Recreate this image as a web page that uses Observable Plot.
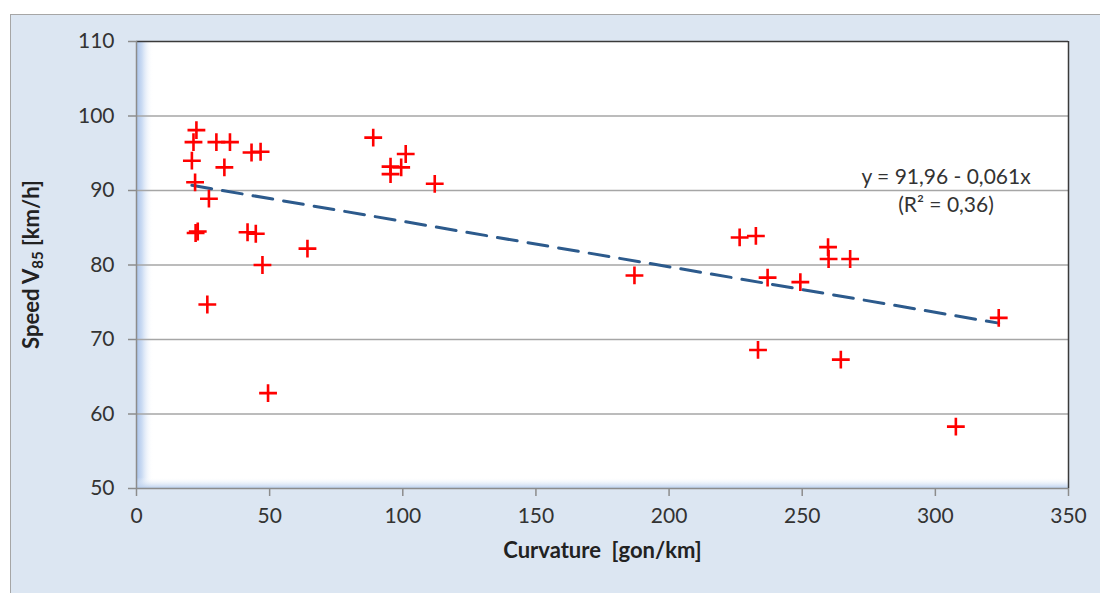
<!DOCTYPE html>
<html>
<head>
<meta charset="utf-8">
<script src="https://cdn.jsdelivr.net/npm/d3@7"></script>
<script src="https://cdn.jsdelivr.net/npm/@observablehq/plot@0.6"></script>
<style>
  html, body { margin: 0; padding: 0; background: #ffffff; }
  #wrap { position: relative; width: 1100px; height: 593px; overflow: hidden; }
  #box { position: absolute; left: 10px; top: 14px; width: 1110px; height: 600px;
         background: #dce6f2; border: 1.5px solid #a6a6a6; box-sizing: border-box; }
  #chart { position: absolute; left: 0; top: 0; }
  svg { font-family: Lato, "Open Sans", sans-serif; }
</style>
</head>
<body>
<div id="wrap"><div id="box"></div><div id="chart"></div></div>
<script>
// Curvature [gon/km]
const curvature = [22.5, 21.4, 30.0, 35.1, 43.2, 46.6, 20.8, 33.0, 22.0, 27.2,
  22.2, 23.0, 41.7, 44.8, 64.2, 47.3, 26.6, 49.4,
  88.9, 101.1, 95.4, 95.4, 99.4, 112.0,
  187.0, 226.5, 232.6, 237.0, 249.3, 259.7, 259.9, 268.0, 233.4, 264.5, 323.8, 307.7];
// Speed V85 [km/h]
const speed = [98.1, 96.5, 96.5, 96.5, 95.1, 95.2, 94.0, 93.1, 91.1, 88.9,
  84.3, 84.5, 84.4, 84.2, 82.2, 80.0, 74.7, 62.8,
  97.1, 94.9, 93.2, 92.2, 93.1, 90.9,
  78.6, 83.7, 83.9, 78.3, 77.7, 82.4, 80.8, 80.8, 68.6, 67.3, 72.9, 58.3];
// trend line end points: y = 91,96 - 0,061x
const trendX = [20.8, 323.8];
const trendY = [90.7, 72.2];
const xTicks = [0, 50, 100, 150, 200, 250, 300, 350];
const yTicks = [50, 60, 70, 80, 90, 100, 110];
const gridTicks = [60, 70, 80, 90, 100];
const equationText = "y = 91,96 - 0,061x";
const r2Text = "(R² = 0,36)";

const points = curvature.map((c, i) => ({c, s: speed[i]}));
const trend = trendX.map((c, i) => ({c, s: trendY[i]}));

const svg = Plot.plot({
  width: 1100,
  height: 593,
  marginLeft: 136,
  marginRight: 32,
  marginTop: 41,
  marginBottom: 105,
  style: {background: "transparent", fontFamily: "Lato, 'Open Sans', sans-serif", color: "#333"},
  x: {domain: [0, 350], ticks: xTicks, label: null},
  y: {domain: [50, 110], ticks: yTicks, label: null},
  marks: [
    Plot.frame({fill: "white", stroke: "none"}),
    Plot.frame({fill: "url(#gradLeft)", stroke: "none"}),
    Plot.frame({fill: "url(#gradBottom)", stroke: "none"}),
    Plot.gridY(gridTicks, {stroke: "#a6a6a6", strokeOpacity: 1, strokeWidth: 1.5}),
    Plot.ruleY([110], {stroke: "#3a3a3a", strokeWidth: 1.5}),
    Plot.ruleX([350], {stroke: "#3a3a3a", strokeWidth: 1.5}),
    Plot.ruleX([0], {stroke: "#8c8c8c", strokeWidth: 1.5}),
    Plot.ruleY([50], {stroke: "#8c8c8c", strokeWidth: 1.5}),
    Plot.axisY({ticks: yTicks, tickSize: 8, tickPadding: 14, fontSize: 21, stroke: "#8c8c8c", strokeWidth: 1.5, fill: "#333", label: null}),
    Plot.axisX({ticks: xTicks, tickSize: 8, tickPadding: 12, fontSize: 21, stroke: "#8c8c8c", strokeWidth: 1.5, fill: "#333", label: null}),
    Plot.line(trend, {x: "c", y: "s", stroke: "#2c5a8c", strokeWidth: 3, strokeDasharray: "20,11"}),
    Plot.dot(points, {x: "c", y: "s", symbol: "plus", r: 5.8, stroke: "#ff0000", strokeWidth: 2.6}),
    Plot.text([equationText], {x: 304, y: 91.8, fontSize: 21, fill: "#333"}),
    Plot.text([r2Text], {x: 304, y: 88.05, fontSize: 21, fill: "#333"}),
    Plot.text(["Curvature  [gon/km]"], {frameAnchor: "bottom", dy: 69, fontSize: 22, fontWeight: "bold", fill: "#222"})
  ]
});

svg.insertAdjacentHTML("afterbegin", `
<defs>
  <linearGradient id="gradLeft" x1="0" y1="0" x2="1" y2="0">
    <stop offset="0" stop-color="#a9c3ea" stop-opacity="1"/>
    <stop offset="0.006" stop-color="#c6d8f2" stop-opacity="0.9"/>
    <stop offset="0.018" stop-color="#ffffff" stop-opacity="0"/>
  </linearGradient>
  <linearGradient id="gradBottom" x1="0" y1="0" x2="0" y2="1">
    <stop offset="0.975" stop-color="#ffffff" stop-opacity="0"/>
    <stop offset="1" stop-color="#b4cbec" stop-opacity="1"/>
  </linearGradient>
</defs>`);

// y axis title with subscript
const t = d3.select(svg).append("text")
  .attr("transform", "translate(39,264.5) rotate(-90)")
  .attr("text-anchor", "middle")
  .attr("font-size", 22)
  .attr("font-weight", "bold")
  .attr("fill", "#222");
t.append("tspan").text("Speed V");
t.append("tspan").attr("font-size", 15).attr("dy", 4).text("85");
t.append("tspan").attr("dy", -4).text(" [km/h]");

document.getElementById("chart").appendChild(svg);
</script>
</body>
</html>
